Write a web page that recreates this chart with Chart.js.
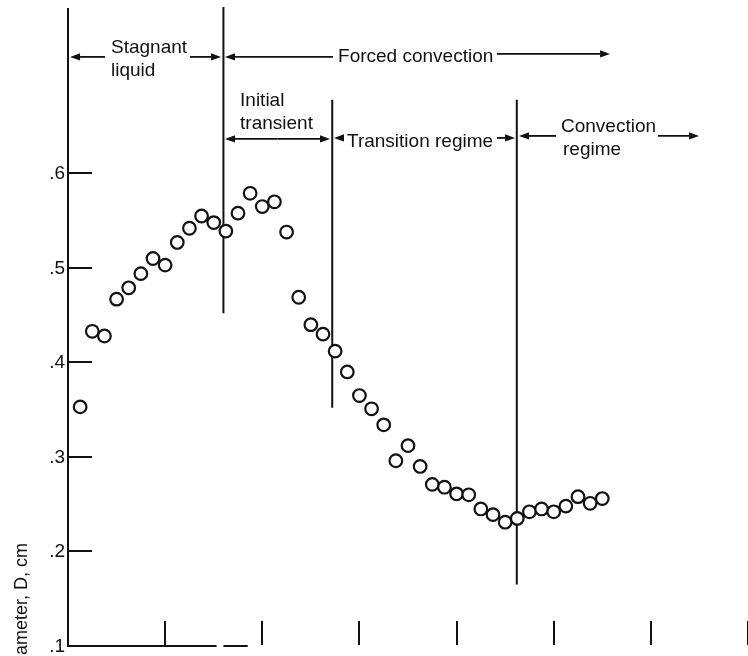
<!DOCTYPE html>
<html>
<head>
<meta charset="utf-8">
<script src="https://cdn.jsdelivr.net/npm/chart.js@4/dist/chart.umd.min.js"></script>
<style>
  html, body { margin: 0; padding: 0; background: #fff; overflow: hidden; }
  canvas { display: block; }
</style>
</head>
<body>
<canvas id="chart" width="748" height="656"></canvas>
<script>
// Measured bubble diameter over time (x in axis divisions, D in cm)
const timeValues = [
  0.125, 0.25, 0.375, 0.5, 0.625, 0.75, 0.875, 1.0, 1.125, 1.25, 1.375,
  1.5, 1.625, 1.75, 1.875, 2.0, 2.125, 2.25, 2.375, 2.5, 2.625, 2.75,
  2.875, 3.0, 3.125, 3.25, 3.375, 3.5, 3.625, 3.75, 3.875, 4.0, 4.125,
  4.25, 4.375, 4.5, 4.625, 4.75, 4.875, 5.0, 5.125, 5.25, 5.375, 5.5
];
const diameterValues = [
  0.353, 0.433, 0.428, 0.467, 0.479, 0.494, 0.510, 0.503, 0.527, 0.542, 0.555,
  0.548, 0.539, 0.558, 0.579, 0.565, 0.570, 0.538, 0.469, 0.440, 0.430, 0.412,
  0.390, 0.365, 0.351, 0.334, 0.296, 0.312, 0.290, 0.271, 0.268, 0.261, 0.260,
  0.245, 0.239, 0.231, 0.235, 0.242, 0.245, 0.242, 0.248, 0.258, 0.251, 0.256
];

// Axis ticks
const yTickValues = [0.1, 0.2, 0.3, 0.4, 0.5, 0.6];
const yTickLabels = ['.1', '.2', '.3', '.4', '.5', '.6'];
const xTickValues = [1, 2, 3, 4, 5, 6, 7];
const yAxisTitle = 'Bubble diameter, D, cm';

// Regime boundaries (vertical dividers)
const boundaryX = [1.6, 2.72, 4.62];
const boundaryTop = [0.776, 0.678, 0.678];
const boundaryBottom = [0.452, 0.352, 0.165];

// Regime captions
const captionText = ['Stagnant', 'liquid', 'Forced convection', 'Initial', 'transient',
                     'Transition regime', 'Convection', 'regime'];
const captionX = [0.443, 0.443, 2.78, 1.771, 1.771, 2.872, 5.075, 5.096];
const captionY = [0.7275, 0.7032, 0.718, 0.6714, 0.647, 0.628, 0.644, 0.6196];

// Regime arrows: [fromX, fromY, toX, toY], head at the "to" end
const regimeArrows = [
  [0.381, 0.7233, 0.021, 0.7233],
  [1.256, 0.7233, 1.575, 0.7233],
  [2.728, 0.7233, 1.616, 0.7233],
  [4.416, 0.7265, 5.580, 0.7265],
  [2.157, 0.6365, 1.616, 0.6365],
  [2.157, 0.6365, 2.697, 0.6365],
  [2.831, 0.6376, 2.738, 0.6376],
  [4.416, 0.6376, 4.602, 0.6376],
  [5.024, 0.6397, 4.643, 0.6397],
  [6.073, 0.6397, 6.496, 0.6397]
];

// Visible pieces of the bottom axis line
const baselineSegments = [[0, 1.53], [1.6, 1.85]];

const ink = '#111';
const fontFamily = '"Liberation Sans", Arial, sans-serif';

const boundaryDatasets = boundaryX.map((bx, i) => ({
  type: 'line',
  data: [{ x: bx, y: boundaryBottom[i] }, { x: bx, y: boundaryTop[i] }],
  showLine: true,
  borderColor: ink,
  borderWidth: 2,
  pointRadius: 0,
  clip: false,
  order: 2
}));

const overlay = {
  id: 'overlay',
  afterDatasetsDraw(chart) {
    const { ctx, scales: { x, y } } = chart;
    ctx.save();
    ctx.strokeStyle = ink;
    ctx.fillStyle = ink;
    ctx.lineCap = 'butt';

    const axisX = Math.round(x.getPixelForValue(0));
    const baseY = Math.round(y.getPixelForValue(0.1));

    // inward ticks and labels on the y axis
    ctx.lineWidth = 2;
    ctx.font = '19px ' + fontFamily;
    ctx.textAlign = 'right';
    ctx.textBaseline = 'middle';
    yTickValues.forEach((v, i) => {
      const py = Math.round(y.getPixelForValue(v));
      ctx.beginPath();
      ctx.moveTo(axisX, py);
      ctx.lineTo(axisX + 24, py);
      ctx.stroke();
      ctx.fillText(yTickLabels[i], axisX - 3, py + 1);
    });

    // bottom axis line
    baselineSegments.forEach(([a, b]) => {
      ctx.beginPath();
      ctx.moveTo(x.getPixelForValue(a), baseY);
      ctx.lineTo(x.getPixelForValue(b), baseY);
      ctx.stroke();
    });

    // upward ticks on the x axis
    xTickValues.forEach(v => {
      const px = Math.round(x.getPixelForValue(v));
      ctx.beginPath();
      ctx.moveTo(px, baseY - 1);
      ctx.lineTo(px, baseY - 25);
      ctx.stroke();
    });

    // arrows
    ctx.lineWidth = 1.8;
    regimeArrows.forEach(([fx, fy, tx, ty]) => {
      const x0 = x.getPixelForValue(fx), y0 = y.getPixelForValue(fy);
      const x1 = x.getPixelForValue(tx), y1 = y.getPixelForValue(ty);
      const ang = Math.atan2(y1 - y0, x1 - x0);
      const len = 10, hw = 3.6;
      const bx = x1 - len * Math.cos(ang), by = y1 - len * Math.sin(ang);
      ctx.beginPath();
      ctx.moveTo(x0, y0);
      ctx.lineTo(bx, by);
      ctx.stroke();
      ctx.beginPath();
      ctx.moveTo(x1, y1);
      ctx.lineTo(bx + hw * Math.sin(ang), by - hw * Math.cos(ang));
      ctx.lineTo(bx - hw * Math.sin(ang), by + hw * Math.cos(ang));
      ctx.closePath();
      ctx.fill();
    });

    // captions
    ctx.font = '19px ' + fontFamily;
    ctx.textAlign = 'left';
    ctx.textBaseline = 'alphabetic';
    captionText.forEach((t, i) => {
      ctx.fillText(t, x.getPixelForValue(captionX[i]), y.getPixelForValue(captionY[i]));
    });

    // rotated y-axis title
    ctx.save();
    ctx.translate(27, 543);
    ctx.rotate(-Math.PI / 2);
    ctx.font = '18px ' + fontFamily;
    ctx.textAlign = 'right';
    ctx.fillText(yAxisTitle, 0, 0);
    ctx.restore();

    ctx.restore();
  }
};

new Chart(document.getElementById('chart'), {
  type: 'scatter',
  data: {
    datasets: [
      {
        data: timeValues.map((t, i) => ({ x: t, y: diameterValues[i] })),
        pointStyle: 'circle',
        pointRadius: 6.3,
        borderWidth: 2.2,
        borderColor: ink,
        backgroundColor: '#fff',
        order: 0
      },
      ...boundaryDatasets
    ]
  },
  options: {
    responsive: false,
    animation: false,
    events: [],
    layout: { autoPadding: false, padding: { top: 9, right: 0, bottom: 10, left: 0 } },
    plugins: { legend: { display: false }, tooltip: { enabled: false } },
    scales: {
      x: { type: 'linear', min: 0, max: 7, display: false },
      y: {
        type: 'linear',
        min: 0.1,
        max: 0.774,
        afterBuildTicks: s => { s.ticks = yTickValues.map(v => ({ value: v })); },
        afterFit: s => { s.width = 68; },
        grid: { display: false, drawTicks: false },
        border: { display: true, color: ink, width: 2 },
        ticks: { display: false }
      }
    }
  },
  plugins: [overlay]
});
</script>
</body>
</html>
